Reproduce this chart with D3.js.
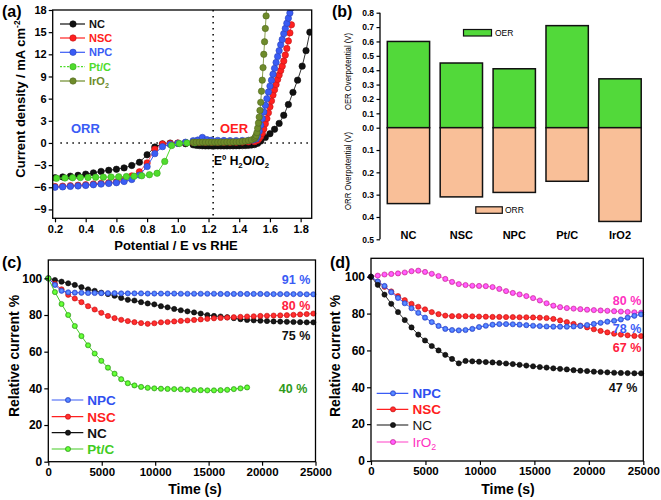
<!DOCTYPE html>
<html><head><meta charset="utf-8">
<script src="https://cdn.jsdelivr.net/npm/d3@7"></script>
<style>body{margin:0;background:#fff}svg{display:block}</style>
</head><body><svg id="chart" width="661" height="500"></svg>
<script>
// ---------------- DATA ----------------
// Panel (a): [potential V vs RHE, current density mA cm-2]
const NC_A = [[0.20,-4.70],[0.25,-4.60],[0.30,-4.50],[0.35,-4.38],[0.40,-4.22],[0.45,-4.05],[0.50,-3.85],[0.55,-3.70],[0.60,-3.56],[0.65,-3.38],[0.70,-3.05],[0.75,-2.62],[0.80,-1.60],[0.85,-0.55],[0.90,-0.12],[0.95,-0.02],[1.00,-0.05],[1.05,-0.10],[1.10,-0.25],[1.12,-0.32],[1.14,-0.36],[1.16,-0.38],[1.18,-0.40],[1.20,-0.40],[1.22,-0.40],[1.24,-0.40],[1.26,-0.40],[1.28,-0.40],[1.30,-0.40],[1.32,-0.40],[1.34,-0.39],[1.36,-0.39],[1.38,-0.38],[1.40,-0.37],[1.42,-0.36],[1.44,-0.34],[1.46,-0.32],[1.48,-0.28],[1.50,-0.22],[1.52,-0.05],[1.54,0.25],[1.57,0.75],[1.60,1.25],[1.63,1.85],[1.66,2.65],[1.69,3.75],[1.72,5.2],[1.75,6.85],[1.78,8.5],[1.81,10.4],[1.835,12.5],[1.86,15.0]];
const NSC_A = [[0.20,-5.90],[0.25,-5.85],[0.30,-5.78],[0.35,-5.72],[0.40,-5.65],[0.45,-5.56],[0.50,-5.47],[0.55,-5.38],[0.60,-5.27],[0.65,-5.05],[0.70,-4.45],[0.75,-3.90],[0.80,-2.70],[0.85,-0.85],[0.90,-0.15],[0.95,-0.05],[1.00,0.00],[1.05,0.05],[1.10,0.08],[1.14,0.10],[1.18,0.10],[1.22,0.10],[1.26,0.10],[1.30,0.10],[1.34,0.10],[1.38,0.10],[1.42,0.12],[1.46,0.15],[1.50,0.18],[1.52,0.35],[1.53,0.6],[1.54,0.9],[1.55,1.3],[1.56,1.9],[1.57,2.6],[1.58,3.3],[1.59,4.1],[1.60,4.9],[1.61,5.7],[1.62,6.5],[1.63,7.2],[1.64,7.9],[1.65,8.6],[1.66,9.2],[1.67,9.8],[1.68,10.4],[1.69,11.1],[1.70,11.9],[1.71,12.8],[1.72,13.8],[1.73,14.9],[1.74,16.0]];
const NPC_A = [[0.20,-6.00],[0.25,-5.95],[0.30,-5.88],[0.35,-5.82],[0.40,-5.75],[0.45,-5.66],[0.50,-5.57],[0.55,-5.48],[0.60,-5.38],[0.65,-5.22],[0.70,-4.95],[0.75,-4.35],[0.80,-3.20],[0.85,-1.45],[0.90,-0.50],[0.95,-0.20],[1.00,-0.05],[1.05,0.10],[1.10,0.30],[1.13,0.40],[1.16,0.75],[1.19,0.45],[1.22,0.38],[1.26,0.35],[1.30,0.33],[1.34,0.32],[1.38,0.32],[1.42,0.33],[1.46,0.35],[1.49,0.40],[1.51,0.55],[1.52,0.9],[1.53,1.6],[1.54,2.4],[1.55,3.3],[1.56,4.2],[1.57,5.1],[1.58,6.0],[1.59,6.9],[1.60,7.7],[1.61,8.5],[1.62,9.3],[1.63,10.1],[1.64,10.9],[1.65,11.7],[1.66,12.5],[1.67,13.3],[1.68,14.0],[1.69,14.8],[1.70,15.5],[1.71,16.2],[1.72,16.9],[1.73,17.6],[1.74,18.3]];
const PTC_A = [[0.21,-4.78],[0.265,-4.74],[0.315,-4.71],[0.365,-4.69],[0.415,-4.67],[0.465,-4.65],[0.515,-4.63],[0.565,-4.61],[0.615,-4.58],[0.665,-4.55],[0.715,-4.50],[0.765,-4.44],[0.815,-4.30],[0.865,-4.10],[0.915,-2.50],[0.96,-0.35],[1.01,-0.08],[1.06,0.00],[1.11,0.03]];
const IRO_A = [[1.10,0.10],[1.12,0.10],[1.14,0.10],[1.16,0.10],[1.18,0.10],[1.20,0.10],[1.22,0.10],[1.24,0.10],[1.26,0.10],[1.28,0.11],[1.30,0.11],[1.32,0.12],[1.34,0.12],[1.36,0.13],[1.38,0.14],[1.40,0.15],[1.42,0.20],[1.44,0.25],[1.46,0.32],[1.48,0.42],[1.50,0.60],[1.505,0.80],[1.51,1.0],[1.515,1.4],[1.52,2.0],[1.525,2.7],[1.53,3.5],[1.535,4.4],[1.54,5.5],[1.545,7.0],[1.55,8.5],[1.555,10.2],[1.56,12.0],[1.565,13.7],[1.57,15.5],[1.575,17.2],[1.58,19.0]];
const A_XTICKS = [0.2,0.4,0.6,0.8,1.0,1.2,1.4,1.6,1.8];
const A_YTICKS = [-9,-6,-3,0,3,6,9,12,15,18];

// Panel (b)
const CATS_B = ["NC","NSC","NPC","Pt/C","IrO2"];
const OER_B = [0.60,0.45,0.41,0.71,0.34];
const ORR_B = [0.34,0.31,0.29,0.24,0.42];
const B_TOPTICKS = [0.0,0.1,0.2,0.3,0.4,0.5,0.6,0.7,0.8];
const B_BOTTICKS = [0.1,0.2,0.3,0.4,0.5];

// Panels (c),(d): time (s)
const T = [0,620,1240,1860,2480,3100,3720,4340,4960,5580,6200,6820,7440,8060,8680,9300,9920,10540,11160,11780,12400,13020,13640,14260,14880,15500,16120,16740,17360,17980,18600,19220,19840,20460,21080,21700,22320,22940,23560,24180,24800];
const NPC_C = [100,96.4,93.2,92.4,92.2,92.1,92.0,92.0,91.9,91.9,91.9,91.8,91.8,91.8,91.8,91.7,91.7,91.7,91.7,91.7,91.6,91.6,91.6,91.6,91.6,91.6,91.5,91.5,91.5,91.5,91.5,91.5,91.5,91.4,91.4,91.4,91.4,91.4,91.4,91.3,91.3];
const NSC_C = [100,97.0,94.0,91.0,89.0,87.0,84.8,83.0,81.2,79.5,78.3,77.4,76.7,76.1,75.6,75.2,75.5,76.0,76.2,76.5,76.8,77.0,77.3,77.6,77.9,78.2,78.4,78.6,78.8,79.0,79.2,79.3,79.5,79.6,79.7,79.8,79.9,80.1,80.3,80.5,80.8];
const NC_C = [100,99.1,98.2,97.3,96.4,95.2,94.0,93.2,92.2,91.4,90.5,89.3,88.3,87.9,87.0,86.3,85.8,84.8,84.2,83.3,82.6,82.0,81.4,80.8,80.0,79.5,79.2,78.8,78.3,77.7,77.3,77.1,76.9,76.7,76.5,76.4,76.3,76.2,76.1,76.0,76.0];
const PTC_C = [100,92.5,86.0,80.0,74.0,68.5,63.5,59.0,55.0,51.3,48.0,45.0,42.8,41.6,40.8,40.3,40.0,39.8,39.7,39.6,39.5,39.3,39.1,39.0,38.9,38.9,39.0,39.2,39.6,40.0,40.5];
const IRO_D = [100,100.6,101.2,101.5,101.8,102.3,103.0,103.3,102.6,101.6,100.4,98.8,97.2,96.0,95.5,95.1,95.0,94.9,94.4,93.4,92.2,91.2,90.4,89.5,88.4,87.1,85.6,84.3,83.5,83.0,82.7,82.4,82.1,81.9,81.7,81.5,81.3,81.1,80.9,80.7,80.5];
const NSC_D = [100,97.2,94.5,92.0,89.5,87.3,85.3,83.7,82.3,80.8,79.7,78.9,78.6,78.6,78.6,78.5,78.4,78.3,78.2,78.2,78.1,78.1,78.0,78.0,77.9,77.8,77.6,77.1,76.3,75.4,74.4,73.5,72.5,71.5,70.6,69.8,69.1,68.6,68.2,67.9,67.8];
const NPC_D = [100,97.4,95.0,91.6,88.5,85.6,82.9,80.4,77.8,75.4,73.3,71.7,71.1,70.9,71.1,71.7,72.7,73.4,74.0,74.3,74.3,74.2,74.0,73.7,73.4,73.2,73.0,72.9,72.9,72.9,73.0,73.3,73.8,74.4,75.0,75.6,76.1,76.8,77.8,78.8,79.6];
const NC_D = [100,95.6,90.3,85.3,80.8,76.5,72.5,68.6,65.4,62.4,60.0,57.6,55.4,53.0,54.3,54.1,53.9,53.7,53.5,53.2,52.9,52.6,52.2,51.8,51.4,51.0,50.7,50.3,50.0,49.7,49.3,49.0,48.8,48.5,48.3,48.1,47.9,47.8,47.7,47.6,47.6];
const CD_XTICKS = [0,5000,10000,15000,20000,25000];
const CD_YTICKS = [0,20,40,60,80,100];

// ---------------- DRAWING ----------------
const FONT = '"Liberation Sans", Arial, sans-serif';
const svg = d3.select("#chart");
svg.append("rect").attr("width",661).attr("height",500).attr("fill","#fff");
const defs = svg.append("defs");

const COL = {NC:"#111111", NSC:"#ff2020", NPC:"#3a5cf5", PTC:"#4fdc2c", IRO:"#6e8b2a", IROD:"#ff40c8"};

const grads = {};
function grad(color){
  const id = "g" + color.replace("#","");
  if (!grads[id]) {
    const rg = defs.append("radialGradient").attr("id",id).attr("cx","50%").attr("cy","50%").attr("r","50%");
    rg.append("stop").attr("offset","0%").attr("stop-color",d3.color(color).brighter(1.6).formatHex());
    rg.append("stop").attr("offset","55%").attr("stop-color",d3.color(color).brighter(0.8).formatHex());
    rg.append("stop").attr("offset","100%").attr("stop-color",color);
    grads[id] = true;
  }
  return `url(#${id})`;
}

function styleAxis(g, size){
  g.attr("font-family", FONT);
  g.selectAll("text").attr("font-weight","bold").attr("font-size",size).attr("fill","#000");
  g.selectAll("line").attr("stroke","#000").attr("stroke-width",1.2);
  g.select(".domain").remove();
}
function rich(g, x, y, parts, attrs){
  const t = g.append("text").attr("x",x).attr("y",y).attr("font-family",FONT);
  for (const k in attrs) t.attr(k, attrs[k]);
  let shift = 0;
  parts.forEach(([s,k])=>{
    const sp = t.append("tspan").text(s);
    let target = 0;
    if (k==="sub") { target = 3; sp.attr("font-size","0.65em"); }
    if (k==="sup") { target = -5; sp.attr("font-size","0.65em"); }
    if (target!==shift) { sp.attr("dy", target-shift); shift = target; }
  });
  return t;
}
function series(g, pts, x, y, color, r, lineColor, shaded){
  g.append("path").datum(pts)
    .attr("d", d3.line().x(d=>x(d[0])).y(d=>y(d[1])))
    .attr("fill","none").attr("stroke",lineColor||color).attr("stroke-width",1);
  g.selectAll(null).data(pts).enter().append("circle")
    .attr("cx",d=>x(d[0])).attr("cy",d=>y(d[1])).attr("r",r)
    .attr("fill",shaded ? grad(color) : color)
    .attr("stroke",d3.color(color).darker(0.8)).attr("stroke-width",0.6);
}
function legendItem(g, x1, x2, xm, y, color, r, dash, label, textColor, size, weight, tx, shaded){
  g.append("line").attr("x1",x1).attr("x2",x2).attr("y1",y).attr("y2",y)
    .attr("stroke",color).attr("stroke-width",1.2).attr("stroke-dasharray",dash||null);
  g.append("circle").attr("cx",xm).attr("cy",y).attr("r",r).attr("fill",shaded ? grad(color) : color)
    .attr("stroke",d3.color(color).darker(0.8)).attr("stroke-width",0.6);
  rich(g, tx, y+size*0.36, label, {"font-size":size,"font-weight":weight,"fill":textColor});
}

// ===== Panel (a) =====
{
  const x = d3.scaleLinear().domain([0.185,1.872]).range([52.7,311.7]);
  const y = d3.scaleLinear().domain([-10.2,18]).range([218.3,10]);
  const g = svg.append("g");
  defs.append("clipPath").attr("id","clipA").append("rect")
    .attr("x",x.range()[0]).attr("y",y.range()[1])
    .attr("width",x.range()[1]-x.range()[0]).attr("height",y.range()[0]-y.range()[1]);
  g.append("line").attr("x1",x(0.235)).attr("x2",x.range()[1]).attr("y1",y(0)).attr("y2",y(0))
    .attr("stroke","#000").attr("stroke-width",1.5).attr("stroke-dasharray","1.5,4.5");
  g.append("line").attr("x1",x(1.23)).attr("x2",x(1.23)).attr("y1",y.range()[1]).attr("y2",y.range()[0])
    .attr("stroke","#000").attr("stroke-width",1.5).attr("stroke-dasharray","1.5,4.5");
  const gc = g.append("g").attr("clip-path","url(#clipA)");
  series(gc, NC_A, x, y, COL.NC, 3.2, "#333");
  series(gc, NSC_A, x, y, COL.NSC, 3.2, "#ff5070");
  series(gc, NPC_A, x, y, COL.NPC, 3.2);
  series(gc, PTC_A, x, y, COL.PTC, 3.2);
  series(gc, IRO_A, x, y, COL.IRO, 3.2, "#8aa050");
  g.append("rect").attr("x",x.range()[0]).attr("y",y.range()[1])
    .attr("width",x.range()[1]-x.range()[0]).attr("height",y.range()[0]-y.range()[1])
    .attr("fill","none").attr("stroke","#000").attr("stroke-width",1.3);
  const ax = g.append("g").attr("transform",`translate(0,${y.range()[0]})`)
    .call(d3.axisBottom(x).tickValues(A_XTICKS).tickFormat(d3.format(".1f")).tickSize(4).tickPadding(3));
  styleAxis(ax, 11);
  const ay = g.append("g").attr("transform",`translate(${x.range()[0]},0)`)
    .call(d3.axisLeft(y).tickValues(A_YTICKS).tickSize(4).tickPadding(2));
  styleAxis(ay, 11);
  g.append("text").attr("x",176).attr("y",250).attr("text-anchor","middle")
    .attr("font-family",FONT).attr("font-weight","bold").attr("font-size",13).text("Potential / E vs RHE");
  rich(g, 0, 0, [["Current density / mA cm",""],["-2","sup"]],
    {"font-size":13,"font-weight":"bold","text-anchor":"middle","transform":"translate(25,99) rotate(-90)"});
  g.append("text").attr("x",71).attr("y",133).attr("font-family",FONT).attr("font-weight","bold")
    .attr("font-size",13).attr("fill","#3a5cf5").text("ORR");
  g.append("text").attr("x",220).attr("y",133).attr("font-family",FONT).attr("font-weight","bold")
    .attr("font-size",13).attr("fill","#ff2020").text("OER");
  rich(g, 214, 165, [["E",""],["0","sup"],[" H",""],["2","sub"],["O/O",""],["2","sub"]],
    {"font-size":12,"font-weight":"bold","fill":"#000"});
  const L = [
    [COL.NC,null,[["NC",""]]],
    [COL.NSC,null,[["NSC",""]]],
    [COL.NPC,null,[["NPC",""]]],
    [COL.PTC,"2,1.5",[["Pt/C",""]]],
    [COL.IRO,null,[["IrO",""],["2","sub"]]]
  ];
  const ly = [24,38,52.3,66.7,81];
  L.forEach((d,i)=>legendItem(g, 60, 85, 73, ly[i], d[0], 3.2, d[1], d[2], d[0], 11, "bold", 89, false));
  svg.append("text").attr("x",2).attr("y",17).attr("font-family",FONT).attr("font-weight","bold")
    .attr("font-size",16).text("(a)");
}

// ===== Panel (b) =====
{
  const x = d3.scaleBand().domain(CATS_B).range([382,646.5]).paddingInner(0.2).paddingOuter(0.1);
  const yT = d3.scaleLinear().domain([0,0.8]).range([127.7,12.7]);
  const yB = d3.scaleLinear().domain([0,0.5]).range([127.7,239.3]);
  const g = svg.append("g");
  g.selectAll(".oer").data(CATS_B).enter().append("rect")
    .attr("x",d=>x(d)).attr("width",x.bandwidth())
    .attr("y",(d,i)=>yT(OER_B[i])).attr("height",(d,i)=>yT(0)-yT(OER_B[i]))
    .attr("fill","#52d93a").attr("stroke","#111").attr("stroke-width",1.5);
  g.selectAll(".orr").data(CATS_B).enter().append("rect")
    .attr("x",d=>x(d)).attr("width",x.bandwidth())
    .attr("y",yB(0)).attr("height",(d,i)=>yB(ORR_B[i])-yB(0))
    .attr("fill","#f9bf98").attr("stroke","#111").attr("stroke-width",1.5);
  g.append("line").attr("x1",380).attr("x2",380).attr("y1",yT(0.8)).attr("y2",yB(0.5))
    .attr("stroke","#000").attr("stroke-width",1.3);
  const at = g.append("g").attr("transform","translate(380,0)")
    .call(d3.axisLeft(yT).tickValues(B_TOPTICKS).tickFormat(d3.format(".1f")).tickSize(3.5).tickPadding(2.5));
  styleAxis(at, 8.5);
  const ab = g.append("g").attr("transform","translate(380,0)")
    .call(d3.axisLeft(yB).tickValues(B_BOTTICKS).tickFormat(d3.format(".1f")).tickSize(3.5).tickPadding(2.5));
  styleAxis(ab, 8.5);
  g.selectAll(".cat").data(CATS_B).enter().append("text")
    .attr("x",d=>x(d)+x.bandwidth()/2).attr("y",239).attr("text-anchor","middle")
    .attr("font-family",FONT).attr("font-weight","bold").attr("font-size",11).text(d=>d);
  g.append("text").attr("transform","translate(351,71.5) rotate(-90)").attr("text-anchor","middle")
    .attr("font-family",FONT).attr("font-size",8.5).attr("textLength",77).attr("lengthAdjust","spacingAndGlyphs")
    .text("OER Overpotential (V)");
  g.append("text").attr("transform","translate(351,171) rotate(-90)").attr("text-anchor","middle")
    .attr("font-family",FONT).attr("font-size",8.5).attr("textLength",78).attr("lengthAdjust","spacingAndGlyphs")
    .text("ORR Overpotential (V)");
  g.append("rect").attr("x",463.5).attr("y",29.5).attr("width",28).attr("height",6.5)
    .attr("fill","#52d93a").attr("stroke","#111").attr("stroke-width",1.2);
  g.append("text").attr("x",495).attr("y",35.8).attr("font-family",FONT).attr("font-size",8.5).text("OER");
  g.append("rect").attr("x",475.8).attr("y",206.8).attr("width",26.5).attr("height",6.5)
    .attr("fill","#f9bf98").attr("stroke","#111").attr("stroke-width",1.2);
  g.append("text").attr("x",505).attr("y",213).attr("font-family",FONT).attr("font-size",8.5).text("ORR");
  svg.append("text").attr("x",332).attr("y",17).attr("font-family",FONT).attr("font-weight","bold")
    .attr("font-size",16).text("(b)");
}

// ===== Panels (c),(d) =====
function stabilityPanel(opts){
  const x = d3.scaleLinear().domain([0,25000]).range(opts.xr);
  const y = d3.scaleLinear().domain([0,110]).range(opts.yr);
  const g = svg.append("g");
  opts.series.forEach(s=>{
    const pts = s.v.map((v,i)=>[T[i],v]);
    series(g, pts, x, y, s.c, 2.6, s.lc, true);
  });
  g.append("rect").attr("x",opts.xr[0]).attr("y",opts.yr[1])
    .attr("width",opts.xr[1]-opts.xr[0]).attr("height",opts.yr[0]-opts.yr[1])
    .attr("fill","none").attr("stroke","#000").attr("stroke-width",1.3);
  const ax = g.append("g").attr("transform",`translate(0,${opts.yr[0]})`)
    .call(d3.axisBottom(x).tickValues(CD_XTICKS).tickFormat(d3.format("d")).tickSize(4).tickPadding(2));
  styleAxis(ax, 11.5);
  const ay = g.append("g").attr("transform",`translate(${opts.xr[0]},0)`)
    .call(d3.axisLeft(y).tickValues(CD_YTICKS).tickSize(4).tickPadding(2));
  styleAxis(ay, 12);
  g.append("text").attr("x",opts.tx).attr("y",494).attr("text-anchor","middle")
    .attr("font-family",FONT).attr("font-weight","bold").attr("font-size",14).text("Time (s)");
  g.append("text").attr("transform",`translate(${opts.ylx},356) rotate(-90)`).attr("text-anchor","middle")
    .attr("font-family",FONT).attr("font-weight","bold").attr("font-size",14).text("Relative current %");
  opts.labels.forEach(l=>g.append("text").attr("x",l[0]).attr("y",l[1]).attr("text-anchor","middle")
    .attr("font-family",FONT).attr("font-weight","bold").attr("font-size",12.5).attr("fill",l[3]).text(l[2]));
  opts.legend.forEach((d,i)=>legendItem(g, opts.lx[0], opts.lx[1], opts.lx[2], opts.ly[i], d[0], 2.6, null, d[1], d[2], 13.5, d[3], opts.lx[3], true));
  svg.append("text").attr("x",opts.tag[0]).attr("y",opts.tag[1]).attr("font-family",FONT).attr("font-weight","bold")
    .attr("font-size",16).text(opts.tag[2]);
}

stabilityPanel({
  xr:[48.3,315.5], yr:[461.7,260], ylx:19, tx:195,
  series:[
    {v:NC_C, c:COL.NC, lc:"#333"},
    {v:NSC_C, c:COL.NSC, lc:"#ff5070"},
    {v:NPC_C, c:COL.NPC},
    {v:PTC_C, c:"#45cc25"}
  ],
  labels:[[296,284,"91 %","#3a5cf5"],[296,310,"80 %","#ff2040"],[296,340,"75 %","#111"],[293,393,"40 %","#2f9a1c"]],
  legend:[[COL.NPC,[["NPC",""]],"#2f4ff0","bold"],[COL.NSC,[["NSC",""]],"#ff2020","bold"],[COL.NC,[["NC",""]],"#111","bold"],["#45cc25",[["Pt/C",""]],"#3fcc22","bold"]],
  lx:[51.7,83.3,68,87.3], ly:[400,416.7,432.7,449],
  tag:[2,268,"(c)"]
});
stabilityPanel({
  xr:[371,643.3], yr:[461,258.3], ylx:340, tx:508,
  series:[
    {v:IRO_D, c:COL.IROD, lc:"#ff70d8"},
    {v:NSC_D, c:COL.NSC, lc:"#ff5070"},
    {v:NPC_D, c:COL.NPC},
    {v:NC_D, c:COL.NC, lc:"#333"}
  ],
  labels:[[627,305,"80 %","#ff30c0"],[627,333,"78 %","#3a5cf5"],[627,352,"67 %","#ff2040"],[623,392,"47 %","#111"]],
  legend:[[COL.NPC,[["NPC",""]],"#2f4ff0","bold"],[COL.NSC,[["NSC",""]],"#ff2020","bold"],[COL.NC,[["NC",""]],"#111","normal"],[COL.IROD,[["IrO",""],["2","sub"]],"#ff30c0","normal"]],
  lx:[376.7,408.3,393,412.5], ly:[393.3,409.3,425,442],
  tag:[330,268,"(d)"]
});
</script></body></html>
